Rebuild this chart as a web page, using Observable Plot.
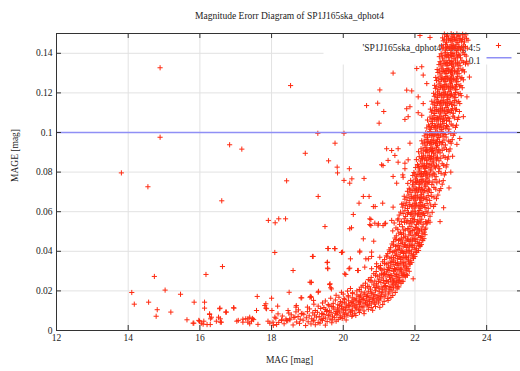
<!DOCTYPE html>
<html><head><meta charset="utf-8">
<script src="https://cdn.jsdelivr.net/npm/d3@7"></script>
<script src="https://cdn.jsdelivr.net/npm/@observablehq/plot@0.6"></script>
<style>
html,body{margin:0;padding:0;background:#fff;overflow:hidden;width:520px;height:371px}
#chart{width:520px;height:371px;overflow:hidden}
#chart svg{max-width:none !important;height:371px !important}
</style>
</head><body><div id="chart"></div>
<script>
const title = "Magnitude Erorr Diagram of SP1J165ska_dphot4";
const xLabel = "MAG [mag]";
const yLabel = "MAGE [mag]";
const seriesName = "'SP1J165ska_dphot4' using 4:5";
const threshold = 0.1;
const thresholdName = "0.1";
const xTicks = [12, 14, 16, 18, 20, 22, 24];
const yTicks = [0, 0.02, 0.04, 0.06, 0.08, 0.1, 0.12, 0.14];

// isolated points [mag, mage]
const scatter = [
[14.89,0.1327],[14.89,0.0976],[13.81,0.0796],[14.55,0.0726],[18.53,0.1237],[16.83,0.0938],[17.17,0.0916],[16.61,0.0655],[19.29,0.0996],[18.94,0.0895],[19.77,0.0946],[19.59,0.0857],[19.83,0.0825],[19.84,0.0796],[18.42,0.0756],[19.30,0.0677],[17.91,0.0556],[18.10,0.0544],[18.20,0.0564],[18.39,0.0564],[19.49,0.0525],[18.09,0.0394],[19.57,0.0414],[19.76,0.0414],[19.14,0.0374],[19.56,0.0345],[19.57,0.0312],[18.60,0.0303],[16.63,0.0323],[16.17,0.0283],[14.73,0.0273],[14.10,0.0192],[15.03,0.0204],[14.17,0.0133],[14.57,0.0143],[15.46,0.0183],[14.81,0.0105],[14.78,0.0072],[15.19,0.0093],[15.84,0.0143],[16.13,0.0143],[16.13,0.0113],[15.64,0.0054],[15.83,0.0037],[15.99,0.0047],[16.09,0.0032],[16.27,0.0081],[16.30,0.0059],[16.52,0.0067],[16.57,0.0042],[16.56,0.0113],[16.72,0.0093],[16.95,0.0113],[16.20,0.0030],[17.03,0.0047],[17.20,0.0057],[17.34,0.0059],[17.39,0.0034],[17.47,0.0061],[17.60,0.0172],[17.84,0.0135],[17.84,0.0113],[18.00,0.0163],[18.01,0.0101],[18.17,0.0123],[17.95,0.0037],[18.14,0.0030],[18.28,0.0054],[18.51,0.0054],[18.49,0.0193],[18.68,0.0118],[18.82,0.0165],[19.10,0.0242],[19.09,0.0172],[19.31,0.0198],[19.62,0.0232],[19.65,0.0216],
[21.39,0.1300],[21.02,0.1215],[20.65,0.1136],[20.96,0.1148],[21.13,0.1106],[21.00,0.1047],[20.02,0.0996],[20.17,0.0817],[20.02,0.0758],[20.18,0.0744],[20.24,0.0766],[20.58,0.0768],[20.56,0.0677],[20.72,0.0677],[20.44,0.0643],[20.89,0.0626],[21.10,0.0643],[20.28,0.0586],[20.23,0.0519],[20.56,0.0463],[20.85,0.0451],[20.77,0.0561],[20.77,0.0530],[20.98,0.0539],[21.18,0.0542],[19.77,0.0413],[19.98,0.0396],[20.20,0.0362],[20.16,0.0312],[20.46,0.0401],[20.63,0.0362],[20.79,0.0374],[20.40,0.0303],[20.93,0.0323],[20.07,0.0283],[21.07,0.0286],
[21.77,0.1120],[21.86,0.1130],[21.81,0.1080],[22.09,0.1100],[21.21,0.0918],[21.35,0.0909],[21.53,0.0918],[21.44,0.0884],[21.25,0.0859],[21.11,0.0833],[21.39,0.0778],[21.49,0.0744],[21.67,0.0774],[21.72,0.0817],[21.81,0.0862],
[22.05,0.1323],[22.19,0.1332],[22.23,0.1290],[22.33,0.1247],[21.77,0.1214],[21.91,0.1210],[22.09,0.1180],[22.23,0.1146],[21.72,0.1066],[22.19,0.1087],[22.14,0.1490],[22.42,0.1480],
[21.86,0.0946],[21.07,0.0837],[21.53,0.0850],[21.72,0.0845],[21.66,0.0786],[20.84,0.0626],[21.39,0.0623],[21.67,0.0640],[20.74,0.0564],[20.88,0.0542],[21.11,0.0530],[21.35,0.0556],[21.53,0.0564],
[20.18,0.0514],[20.74,0.0535],[20.97,0.0532],[21.16,0.0539],[19.58,0.0414],[19.95,0.0394],[19.55,0.0343],[19.56,0.0315],[20.04,0.0286],[20.18,0.0315],[20.42,0.0303],[20.60,0.0320],[20.79,0.0312],[20.46,0.0396],[20.79,0.0396],[21.02,0.0370],[20.70,0.0362],[20.93,0.0337],[19.11,0.0244],[19.63,0.0236],[19.67,0.0210],[19.07,0.0168],[19.17,0.0152],[19.30,0.0193],[18.84,0.0165],
[21.49,0.0244],[21.72,0.0278],[21.95,0.0261],[22.33,0.0539],[22.42,0.0547],[22.14,0.0429],[23.17,0.0940],
[23.00,0.0800],[23.05,0.0880],[22.95,0.0720],[22.80,0.0620],[22.70,0.0550],[23.25,0.0970],[23.35,0.1080],[23.45,0.1180],[23.52,0.1280],[23.44,0.1360],[23.48,0.1347],
[15.81,0.0037],[15.97,0.0051],[16.04,0.0037],[16.11,0.0047],[16.27,0.0084],[16.32,0.0067],[16.29,0.0030],[16.46,0.0047],[16.57,0.0059],[16.55,0.0110],[16.74,0.0093],[16.60,0.0042],[16.94,0.0115],[17.07,0.0051],[17.20,0.0042],[17.28,0.0059],[17.34,0.0042],[17.39,0.0067],[17.44,0.0047],[17.58,0.0101],[17.81,0.0126],[17.86,0.0110],[18.04,0.0042],[18.18,0.0084],[18.09,0.0067],[18.28,0.0051],[18.42,0.0051],[18.51,0.0059],[18.65,0.0067],[18.46,0.0101],[18.69,0.0126],[18.83,0.0084],[19.07,0.0244],[19.11,0.0168],[19.16,0.0374]
];

// dense band, lower arc [mag, mage]
const bandLow = [
[17.62,.0031],[18.05,.0026],[18.35,.0034],[18.6,.0028],[18.78,.0036],[18.95,.0025],[19.1,.0033],[19.22,.0029],[19.35,.0037],[19.5,.0027],
[17.9,.0047],[18.2,.0041],[18.45,.0049],[18.7,.0043],[18.88,.0052],[19.02,.0044],[19.16,.0048],[19.3,.0040],[19.42,.0051],[19.55,.0045],[19.68,.0039],[19.8,.0047],
[17.5,.0055],[18.12,.0062],[18.4,.0058],[18.62,.0066],[18.8,.0057],[18.97,.0064],[19.12,.0059],[19.25,.0068],[19.38,.0056],[19.5,.0063],[19.63,.0058],[19.75,.0065],[19.86,.0055],[19.97,.0061],[20.08,.0053],
[18.3,.0073],[18.55,.0079],[18.74,.0071],[18.9,.0082],[19.05,.0074],[19.2,.0078],[19.33,.0070],[19.46,.0081],[19.58,.0075],[19.7,.0072],[19.82,.0080],[19.93,.0074],[20.03,.0069],[20.13,.0077],[20.24,.0071],[20.35,.0076],
[18.48,.0088],[18.68,.0094],[18.85,.0086],[19.0,.0095],[19.15,.0089],[19.28,.0092],[19.41,.0085],[19.53,.0096],[19.66,.0090],[19.78,.0087],[19.9,.0094],[20.0,.0089],[20.1,.0084],[20.2,.0092],[20.32,.0087],[20.45,.0091],[20.58,.0085],
[18.75,.0104],[19.06,.0109],[19.22,.0101],[19.37,.0111],[19.5,.0106],[19.62,.0099],[19.74,.0108],[19.86,.0103],[19.96,.0110],[20.06,.0102],[20.16,.0107],[20.26,.0100],[20.36,.0109],[20.47,.0104],[20.58,.0099],[20.7,.0107],[20.82,.0102],
[19.0,.0118],[19.3,.0123],[19.46,.0116],[19.6,.0125],[19.72,.0119],[19.84,.0114],[19.95,.0122],[20.05,.0117],[20.15,.0126],[20.25,.0120],[20.35,.0115],[20.45,.0123],[20.55,.0118],[20.66,.0124],[20.78,.0116],[20.9,.0121],[21.02,.0117],
[19.18,.0133],[19.42,.0139],[19.58,.0131],[19.72,.0137],[19.85,.0130],[19.97,.0140],[20.08,.0134],[20.18,.0129],[20.28,.0138],[20.38,.0132],[20.48,.0140],[20.58,.0135],[20.68,.0130],[20.78,.0138],[20.88,.0133],[20.98,.0139],[21.1,.0131],
[19.5,.0149],[19.78,.0154],[19.92,.0146],[20.04,.0156],[20.15,.0150],[20.25,.0145],[20.35,.0153],[20.45,.0148],[20.55,.0157],[20.64,.0151],[20.73,.0146],[20.82,.0155],[20.92,.0149],[21.02,.0154],[21.14,.0147],[21.25,.0152],
[19.65,.0163],[19.88,.0168],[20.02,.0161],[20.14,.0170],[20.25,.0165],[20.36,.0160],[20.46,.0169],[20.56,.0163],[20.66,.0171],[20.75,.0166],[20.85,.0161],[20.94,.0168],[21.04,.0164],[21.14,.0170],[21.24,.0162],[21.33,.0167],
[19.8,.0178],[20.0,.0184],[20.14,.0176],[20.26,.0186],[20.38,.0180],[20.48,.0175],[20.58,.0183],[20.68,.0178],[20.78,.0186],[20.88,.0181],[20.97,.0176],[21.07,.0184],[21.17,.0179],[21.27,.0185],[21.38,.0177],
[19.95,.0193],[20.12,.0199],[20.26,.0191],[20.38,.0200],[20.5,.0195],[20.6,.0190],[20.7,.0198],[20.8,.0193],[20.9,.0201],[21.0,.0196],[21.08,.0191],[21.17,.0199],[21.27,.0194],[21.36,.0200],[21.45,.0192],
[19.18,.0052],[19.44,.0061],[19.69,.0054],[19.91,.0066],[19.4,.0084],[19.6,.0079],[19.84,.0088],[20.04,.0082],[20.26,.0078],[19.55,.0101],[19.8,.0096],[20.0,.0105],[20.22,.0098],[20.42,.0104],[19.68,.0121],[19.9,.0127],[20.1,.0119],[20.32,.0125],[20.52,.0120],[20.72,.0128],[20.03,.0143],[20.22,.0141],[20.43,.0144],[20.62,.0140],[20.86,.0143],[20.3,.0158],[20.52,.0156],[20.72,.0158],[20.97,.0159],[20.44,.0173],[20.65,.0172],[20.84,.0174],[21.05,.0172]
];

// dense band, rising part [mag, mage]
const bandMid = [
[20.2,.0212],[20.45,.0207],[20.62,.0215],[20.76,.0209],[20.88,.0217],[21.0,.0211],[21.1,.0206],[21.2,.0214],[21.3,.0208],[21.4,.0216],[21.5,.0210],
[20.55,.0228],[20.72,.0221],[20.85,.0230],[20.97,.0224],[21.08,.0219],[21.18,.0227],[21.28,.0222],[21.38,.0231],[21.47,.0225],[21.55,.0220],
[20.62,.0239],[20.8,.0245],[20.93,.0236],[21.05,.0243],[21.16,.0238],[21.26,.0246],[21.36,.0240],[21.45,.0235],[21.53,.0244],[21.61,.0238],
[20.7,.0257],[20.88,.0250],[21.0,.0259],[21.12,.0253],[21.22,.0248],[21.32,.0256],[21.42,.0251],[21.5,.0260],[21.58,.0254],[21.67,.0249],
[20.78,.0268],[20.95,.0274],[21.08,.0266],[21.19,.0275],[21.29,.0269],[21.38,.0264],[21.47,.0272],[21.56,.0267],[21.64,.0276],[21.73,.0270],
[20.85,.0287],[21.02,.0280],[21.15,.0289],[21.25,.0283],[21.35,.0278],[21.44,.0286],[21.53,.0281],[21.62,.0290],[21.7,.0284],[21.79,.0279],
[20.92,.0298],[21.08,.0305],[21.2,.0296],[21.3,.0303],[21.4,.0299],[21.5,.0306],[21.58,.0300],[21.67,.0295],[21.75,.0304],[21.84,.0299],
[21.0,.0317],[21.14,.0310],[21.26,.0319],[21.36,.0313],[21.46,.0308],[21.55,.0316],[21.63,.0311],[21.72,.0320],[21.81,.0314],
[21.04,.0328],[21.2,.0335],[21.31,.0326],[21.41,.0333],[21.5,.0329],[21.59,.0336],[21.68,.0330],[21.77,.0325],[21.86,.0334],
[21.1,.0347],[21.25,.0340],[21.36,.0349],[21.46,.0343],[21.55,.0338],[21.64,.0346],[21.73,.0341],[21.82,.0350],[21.91,.0344],
[21.15,.0358],[21.3,.0365],[21.41,.0356],[21.51,.0363],[21.6,.0359],[21.69,.0366],[21.78,.0360],[21.87,.0355],[21.96,.0364],
[21.2,.0377],[21.34,.0370],[21.45,.0379],[21.55,.0373],[21.64,.0368],[21.73,.0376],[21.82,.0371],[21.92,.0380],[22.0,.0374],
[21.24,.0388],[21.38,.0395],[21.49,.0386],[21.59,.0393],[21.68,.0389],[21.77,.0396],[21.86,.0390],[21.96,.0385],[22.05,.0394],
[21.28,.0407],[21.42,.0400],[21.53,.0409],[21.63,.0403],[21.72,.0398],[21.81,.0406],[21.9,.0401],[22.0,.0410],[22.1,.0404],
[21.32,.0418],[21.46,.0425],[21.57,.0416],[21.67,.0423],[21.76,.0419],[21.85,.0426],[21.94,.0420],[22.04,.0415],[22.14,.0424],
[21.36,.0437],[21.5,.0430],[21.61,.0439],[21.71,.0433],[21.8,.0428],[21.89,.0436],[21.98,.0431],[22.08,.0440],[22.18,.0434],
[21.4,.0448],[21.54,.0455],[21.65,.0446],[21.75,.0453],[21.84,.0449],[21.93,.0456],[22.02,.0450],[22.12,.0445],[22.22,.0454],
[21.44,.0467],[21.58,.0460],[21.69,.0469],[21.79,.0463],[21.88,.0458],[21.97,.0466],[22.06,.0461],[22.15,.0470],[22.25,.0464],
[21.48,.0478],[21.62,.0485],[21.73,.0476],[21.83,.0483],[21.92,.0479],[22.01,.0486],[22.1,.0480],[22.19,.0475],[22.28,.0484],
[20.5,.0219],[20.68,.0223],[20.92,.0218],[21.14,.0222],[21.33,.0217],[21.52,.0221],
[20.75,.0252],[20.98,.0248],[21.2,.0253],[21.4,.0249],[21.55,.0251],[21.64,.0247],
[20.9,.0279],[21.12,.0283],[21.31,.0278],[21.49,.0282],[21.67,.0277],[21.76,.0281],
[21.04,.0312],[21.23,.0308],[21.43,.0313],[21.6,.0309],[21.77,.0311],
[21.15,.0339],[21.33,.0343],[21.51,.0338],[21.69,.0342],[21.86,.0337],
[21.22,.0372],[21.4,.0368],[21.58,.0373],[21.76,.0369],[21.95,.0371],
[21.3,.0399],[21.47,.0403],[21.66,.0398],[21.84,.0402],[22.03,.0397],
[21.4,.0432],[21.55,.0428],[21.73,.0433],[21.92,.0429],[22.11,.0431],
[21.47,.0459],[21.62,.0463],[21.81,.0458],[22.0,.0462],[22.2,.0457],
[21.55,.0492],[21.68,.0488],[21.87,.0493],[22.05,.0489],[22.22,.0491]
];

// dense band, steep upper part [mag, mage]
const bandHigh = [
[21.38,.0503],[21.6,.0496],[21.73,.0507],[21.86,.0499],[21.94,.0505],[22.05,.0494],[22.13,.0502],[22.26,.0497],
[21.47,.0518],[21.65,.0524],[21.8,.0515],[21.89,.0526],[22.01,.0520],[22.08,.0514],[22.2,.0523],[22.3,.0517],
[21.42,.0543],[21.57,.0536],[21.71,.0546],[21.84,.0539],[21.92,.0544],[22.04,.0535],[22.11,.0542],[22.23,.0537],[22.34,.0545],
[21.52,.0558],[21.7,.0564],[21.8,.0555],[21.92,.0566],[21.99,.0560],[22.11,.0553],[22.19,.0562],[22.38,.0557],
[21.56,.0583],[21.74,.0576],[21.87,.0586],[21.95,.0578],[22.07,.0584],[22.14,.0575],[22.27,.0581],[22.42,.0577],
[21.6,.0598],[21.72,.0605],[21.82,.0596],[21.94,.0603],[22.01,.0599],[22.12,.0606],[22.2,.0595],[22.31,.0602],[22.48,.0597],
[21.66,.0623],[21.79,.0616],[21.91,.0625],[21.98,.0618],[22.09,.0624],[22.16,.0615],[22.28,.0621],[22.37,.0617],[22.52,.0626],
[21.63,.0638],[21.77,.0645],[21.86,.0636],[21.98,.0643],[22.04,.0639],[22.15,.0646],[22.22,.0635],[22.34,.0642],[22.56,.0637],
[21.72,.0663],[21.84,.0656],[21.95,.0665],[22.02,.0658],[22.13,.0664],[22.19,.0655],[22.31,.0661],[22.41,.0657],[22.6,.0666],
[21.7,.0678],[21.83,.0685],[21.91,.0676],[22.01,.0683],[22.08,.0679],[22.18,.0686],[22.25,.0675],[22.37,.0682],[22.47,.0677],[22.64,.0684],
[21.79,.0703],[21.89,.0696],[22.0,.0705],[22.06,.0698],[22.16,.0704],[22.23,.0695],[22.34,.0701],[22.45,.0697],[22.68,.0706],
[21.84,.0718],[21.97,.0725],[22.03,.0716],[22.13,.0723],[22.19,.0719],[22.3,.0726],[22.38,.0715],[22.53,.0722],[22.72,.0717],
[21.8,.0743],[21.93,.0736],[22.01,.0745],[22.11,.0738],[22.17,.0744],[22.27,.0735],[22.34,.0741],[22.47,.0737],[22.61,.0746],[22.76,.0739],
[21.88,.0758],[22.01,.0765],[22.07,.0756],[22.17,.0763],[22.23,.0759],[22.33,.0766],[22.4,.0755],[22.56,.0762],[22.79,.0757],
[21.94,.0783],[22.04,.0776],[22.14,.0785],[22.2,.0778],[22.3,.0784],[22.36,.0775],[22.48,.0781],[22.59,.0777],[22.82,.0786],
[21.97,.0798],[22.11,.0805],[22.17,.0796],[22.27,.0803],[22.33,.0799],[22.43,.0806],[22.51,.0795],[22.66,.0802],[22.85,.0797],
[22.02,.0823],[22.13,.0816],[22.23,.0825],[22.29,.0818],[22.39,.0824],[22.45,.0815],[22.57,.0821],[22.69,.0817],[22.87,.0826],
[22.07,.0838],[22.2,.0845],[22.26,.0836],[22.36,.0843],[22.42,.0839],[22.52,.0846],[22.6,.0835],[22.76,.0842],[22.89,.0837],
[22.04,.0863],[22.15,.0856],[22.26,.0865],[22.32,.0858],[22.42,.0864],[22.48,.0855],[22.59,.0861],[22.67,.0857],[22.91,.0866],
[22.12,.0878],[22.24,.0885],[22.3,.0876],[22.4,.0883],[22.46,.0879],[22.56,.0886],[22.63,.0875],[22.79,.0882],[22.93,.0877],
[22.1,.0903],[22.19,.0896],[22.3,.0905],[22.36,.0898],[22.46,.0904],[22.52,.0895],[22.62,.0901],[22.7,.0897],[22.95,.0906],
[22.17,.0918],[22.28,.0925],[22.34,.0916],[22.44,.0923],[22.5,.0919],[22.6,.0926],[22.67,.0915],[22.81,.0922],[22.98,.0917],
[22.22,.0943],[22.31,.0936],[22.41,.0945],[22.47,.0938],[22.57,.0944],[22.63,.0935],[22.75,.0941],[22.85,.0937],[23.01,.0946],
[22.19,.0958],[22.31,.0965],[22.37,.0956],[22.47,.0963],[22.53,.0959],[22.63,.0966],[22.69,.0955],[22.81,.0962],[22.93,.0957],[23.04,.0964],
[22.26,.0983],[22.35,.0976],[22.45,.0985],[22.51,.0978],[22.61,.0984],[22.67,.0975],[22.78,.0981],[22.87,.0977],[23.07,.0986],
[22.3,.0998],[22.41,.1005],[22.47,.0996],[22.57,.1003],[22.63,.0999],[22.73,.1006],[22.8,.0995],[22.93,.1002],[23.1,.0997],
[22.33,.1023],[22.43,.1016],[22.53,.1025],[22.59,.1018],[22.69,.1024],[22.75,.1015],[22.86,.1021],[22.95,.1017],[23.13,.1026],
[22.38,.1038],[22.49,.1045],[22.55,.1036],[22.65,.1043],[22.71,.1039],[22.81,.1046],[22.88,.1035],[23.01,.1042],[23.16,.1037],
[22.35,.1063],[22.45,.1056],[22.55,.1065],[22.61,.1058],[22.71,.1064],[22.77,.1055],[22.88,.1061],[22.96,.1057],[23.19,.1066],
[22.42,.1078],[22.53,.1085],[22.59,.1076],[22.69,.1083],[22.75,.1079],[22.85,.1086],[22.92,.1075],[23.06,.1082],[23.22,.1077],
[22.46,.1103],[22.55,.1096],[22.65,.1105],[22.71,.1098],[22.81,.1104],[22.87,.1095],[22.98,.1101],[23.07,.1097],[23.24,.1106],
[22.43,.1118],[22.55,.1125],[22.61,.1116],[22.71,.1123],[22.77,.1119],[22.87,.1126],[22.94,.1115],[23.05,.1122],[23.16,.1117],
[22.5,.1143],[22.59,.1136],[22.69,.1145],[22.75,.1138],[22.85,.1144],[22.91,.1135],[23.02,.1141],[23.11,.1137],[23.25,.1146],
[22.47,.1158],[22.59,.1165],[22.65,.1156],[22.75,.1163],[22.81,.1159],[22.91,.1166],[22.98,.1155],[23.1,.1162],[23.22,.1157],
[22.54,.1183],[22.63,.1176],[22.73,.1185],[22.79,.1178],[22.89,.1184],[22.95,.1175],[23.06,.1181],[23.14,.1177],[23.29,.1186],
[22.52,.1198],[22.63,.1205],[22.69,.1196],[22.79,.1203],[22.85,.1199],[22.95,.1206],[23.02,.1195],[23.13,.1202],[23.26,.1197],
[22.57,.1223],[22.67,.1216],[22.77,.1225],[22.83,.1218],[22.93,.1224],[22.99,.1215],[23.09,.1221],[23.17,.1217],[23.32,.1226],
[22.55,.1238],[22.67,.1245],[22.73,.1236],[22.83,.1243],[22.89,.1239],[22.99,.1246],[23.05,.1235],[23.16,.1242],[23.28,.1237],
[22.6,.1263],[22.7,.1256],[22.8,.1265],[22.86,.1258],[22.96,.1264],[23.02,.1255],[23.12,.1261],[23.2,.1257],[23.35,.1266],
[22.58,.1278],[22.7,.1285],[22.76,.1276],[22.86,.1283],[22.92,.1279],[23.02,.1286],[23.08,.1275],[23.19,.1282],[23.31,.1277],
[22.64,.1303],[22.73,.1296],[22.83,.1305],[22.89,.1298],[22.99,.1304],[23.05,.1295],[23.15,.1301],[23.23,.1297],[23.38,.1306],
[22.62,.1318],[22.73,.1325],[22.79,.1316],[22.89,.1323],[22.95,.1319],[23.05,.1326],[23.11,.1315],[23.22,.1322],[23.34,.1317],
[22.67,.1343],[22.76,.1336],[22.86,.1345],[22.92,.1338],[23.02,.1344],[23.08,.1335],[23.18,.1341],[23.26,.1337],[23.41,.1346],
[22.7,.1358],[22.81,.1365],[22.87,.1356],[22.97,.1363],[23.03,.1359],[23.13,.1366],[23.19,.1355],[23.31,.1362],
[22.68,.1383],[22.77,.1376],[22.87,.1385],[22.93,.1378],[23.03,.1384],[23.09,.1375],[23.19,.1381],[23.27,.1377],[23.43,.1386],
[22.73,.1398],[22.84,.1405],[22.9,.1396],[23.0,.1403],[23.06,.1399],[23.16,.1406],[23.22,.1395],[23.34,.1402],
[22.76,.1423],[22.85,.1416],[22.95,.1425],[23.01,.1418],[23.11,.1424],[23.17,.1415],[23.27,.1421],[23.35,.1417],[23.46,.1426],
[22.74,.1438],[22.85,.1445],[22.91,.1436],[23.01,.1443],[23.07,.1439],[23.17,.1446],[23.23,.1435],[23.35,.1442],
[22.79,.1463],[22.88,.1456],[22.98,.1465],[23.04,.1458],[23.14,.1464],[23.2,.1455],[23.3,.1461],[23.38,.1457],[23.48,.1466],
[22.77,.1478],[22.88,.1485],[22.94,.1476],[23.04,.1483],[23.1,.1479],[23.2,.1486],[23.26,.1475],[23.37,.1482],
[22.82,.1497],[22.91,.1492],[23.01,.1499],[23.07,.1494],[23.17,.1498],[23.23,.1491],[23.33,.1496],[23.42,.1493],
[21.52,.0511],[21.69,.0508],[21.83,.0513],[21.98,.0509],[22.09,.0512],[22.18,.0507],[22.28,.0510],
[21.62,.0551],[21.76,.0548],[21.88,.0553],[21.97,.0549],[22.07,.0552],[22.16,.0547],[22.3,.0550],
[21.67,.0591],[21.79,.0588],[21.9,.0593],[22.0,.0589],[22.1,.0592],[22.17,.0587],[22.24,.0590],[22.36,.0594],
[21.73,.0631],[21.84,.0628],[21.94,.0633],[22.02,.0629],[22.12,.0632],[22.19,.0627],[22.27,.0630],[22.44,.0634],
[21.78,.0671],[21.89,.0668],[21.98,.0673],[22.06,.0669],[22.15,.0672],[22.23,.0667],[22.33,.0670],[22.53,.0674],
[21.86,.0711],[21.94,.0708],[22.04,.0713],[22.1,.0709],[22.2,.0712],[22.27,.0707],[22.4,.0710],[22.58,.0714],
[21.95,.0751],[22.04,.0748],[22.13,.0753],[22.2,.0749],[22.29,.0752],[22.37,.0747],[22.5,.0750],[22.68,.0754],
[22.0,.0791],[22.08,.0788],[22.18,.0793],[22.24,.0789],[22.33,.0792],[22.41,.0787],[22.55,.0790],[22.73,.0794],
[22.1,.0831],[22.17,.0828],[22.26,.0833],[22.32,.0829],[22.47,.0832],[22.54,.0827],[22.65,.0830],[22.8,.0834],
[22.18,.0871],[22.21,.0868],[22.36,.0873],[22.44,.0869],[22.52,.0872],[22.6,.0867],[22.72,.0870],[22.84,.0874],
[22.23,.0911],[22.32,.0908],[22.4,.0913],[22.49,.0909],[22.56,.0912],[22.65,.0907],[22.76,.0910],[22.88,.0914],
[22.27,.0951],[22.35,.0948],[22.43,.0953],[22.51,.0949],[22.6,.0952],[22.68,.0947],[22.77,.0950],[22.98,.0954],
[22.34,.0991],[22.4,.0988],[22.5,.0993],[22.55,.0989],[22.66,.0992],[22.71,.0987],[22.84,.0990],[23.0,.0994],
[22.4,.1031],[22.46,.1028],[22.57,.1033],[22.63,.1029],[22.73,.1032],[22.79,.1027],[22.9,.1030],[23.06,.1034],
[22.48,.1071],[22.5,.1068],[22.63,.1073],[22.66,.1069],[22.79,.1072],[22.81,.1067],[22.95,.1070],[23.1,.1074],
[22.5,.1111],[22.59,.1108],[22.67,.1113],[22.75,.1109],[22.83,.1112],[22.91,.1107],[23.02,.1110],[23.13,.1114],
[22.54,.1151],[22.63,.1148],[22.71,.1153],[22.79,.1149],[22.87,.1152],[22.95,.1147],[23.06,.1150],[23.17,.1154],
[22.58,.1191],[22.67,.1188],[22.75,.1193],[22.83,.1189],[22.91,.1192],[22.99,.1187],[23.1,.1190],[23.21,.1194],
[22.61,.1231],[22.71,.1228],[22.79,.1233],[22.87,.1229],[22.95,.1232],[23.03,.1227],[23.13,.1230],[23.24,.1234],
[22.65,.1271],[22.74,.1268],[22.83,.1273],[22.9,.1269],[22.99,.1272],[23.06,.1267],[23.16,.1270],[23.28,.1274],
[22.68,.1311],[22.78,.1308],[22.86,.1313],[22.94,.1309],[23.02,.1312],[23.1,.1307],[23.19,.1310],[23.31,.1314],
[22.72,.1351],[22.81,.1348],[22.9,.1353],[22.98,.1349],[23.06,.1352],[23.14,.1347],[23.23,.1350],[23.35,.1354],
[22.75,.1391],[22.84,.1388],[22.93,.1393],[23.01,.1389],[23.09,.1392],[23.17,.1387],[23.25,.1390],[23.39,.1394],
[22.8,.1431],[22.89,.1428],[22.98,.1433],[23.06,.1429],[23.14,.1432],[23.22,.1427],[23.3,.1430],[23.41,.1434],
[22.83,.1471],[22.93,.1468],[23.01,.1473],[23.09,.1469],[23.17,.1472],[23.25,.1467],[23.33,.1470],[23.44,.1474]
];

const points = [...scatter, ...bandLow, ...bandMid, ...bandHigh].map(([mag, mage]) => ({mag, mage}));

const W = 522, H = 371, ML = 56, MR = 0, MT = 33, MB = 41;
const fw = W - ML - MR, fh = H - MT - MB;
const red = "#ff2a10", blue = "#8f8ff5", grid = "#e2e2e2", ink = "#333";

const chart = Plot.plot({
  width: W, height: H,
  marginLeft: ML, marginRight: MR, marginTop: MT, marginBottom: MB,
  x: {domain: [12, 25], axis: null},
  y: {domain: [0, 0.15], axis: null},
  style: {fontFamily: "'Liberation Serif', 'Times New Roman', serif", fontSize: "9.5px", background: "white", color: "#222"},
  marks: [
    Plot.ruleX(xTicks, {stroke: grid}),
    Plot.ruleY(yTicks, {stroke: grid}),
    Plot.frame({fill: "white", stroke: null, insetLeft: 267, insetBottom: 266}),
    Plot.text([seriesName], {text: d => d, frameAnchor: "top-right", dx: -42, dy: 11, textAnchor: "end", fill: "#222"}),
    Plot.text([thresholdName], {text: d => d, frameAnchor: "top-right", dx: -42, dy: 24, textAnchor: "end", fill: "#222"}),
    Plot.dot(points, {x: "mag", y: "mage", symbol: "plus", r: 1.8, stroke: red, strokeWidth: 1}),
    Plot.ruleY([threshold], {stroke: blue, strokeWidth: 1.4}),
    Plot.dot([seriesName], {x: null, y: null, frameAnchor: "top-right", dx: -24, dy: 12, symbol: "plus", r: 1.8, stroke: red, strokeWidth: 1}),
    Plot.frame({fill: blue, stroke: null, insetLeft: 430, insetRight: 11, insetTop: 23.5, insetBottom: fh - 25}),
    Plot.tickX(xTicks, {x: d => d, insetTop: fh - 5, stroke: ink}),
    Plot.tickX(xTicks, {x: d => d, insetBottom: fh - 5, stroke: ink}),
    Plot.tickY(yTicks, {y: d => d, insetRight: fw - 5, stroke: ink}),
    Plot.tickY(yTicks, {y: d => d, insetLeft: fw - 5, stroke: ink}),
    Plot.frame({stroke: ink}),
    Plot.text(xTicks, {x: d => d, text: d => String(d), frameAnchor: "bottom", dy: 10, fill: "#222"}),
    Plot.text(yTicks, {y: d => d, text: d => String(d), frameAnchor: "left", dx: -4, textAnchor: "end", fill: "#222"}),
    Plot.text([xLabel], {text: d => d, frameAnchor: "bottom", dy: 32, fill: "#222"}),
    Plot.text([yLabel], {text: d => d, frameAnchor: "left", dx: -42, rotate: -90, fill: "#222"}),
    Plot.text([title], {text: d => d, frameAnchor: "top", dy: -21, fill: "#222"})
  ]
});
document.getElementById("chart").appendChild(chart);
</script>
</body></html>
